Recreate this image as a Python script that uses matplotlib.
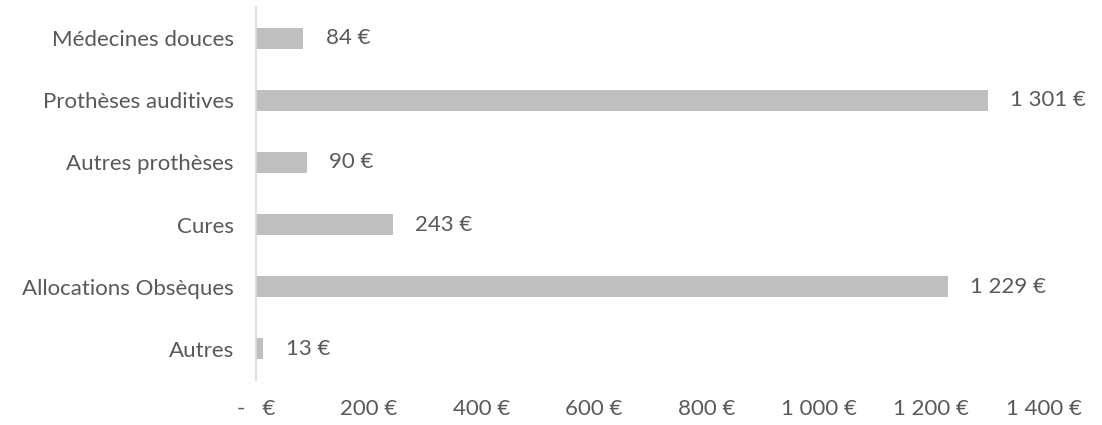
import matplotlib
matplotlib.use("Agg")
import matplotlib.pyplot as plt

categories = ["Médecines douces", "Prothèses auditives", "Autres prothèses",
              "Cures", "Allocations Obsèques", "Autres"]
values = [84, 1301, 90, 243, 1229, 13]
xticks = [0, 200, 400, 600, 800, 1000, 1200, 1400]
xtick_labels = ["-   €", "200 €", "400 €", "600 €", "800 €", "1 000 €", "1 200 €", "1 400 €"]


def fmt(v):
    return f"{v:,}".replace(",", " ") + " €"


plt.rcParams['font.family'] = ['Lato', 'DejaVu Sans']
text_color = "#595959"
fs = 16

fig = plt.figure(figsize=(11.02, 4.25), dpi=100)
ax = fig.add_axes([256 / 1102, 1 - 380 / 425, (1044 - 256) / 1102, 373 / 425])

ypos = list(range(len(categories)))[::-1]
ax.barh(ypos, values, height=0.34, color="#bfbfbf")

for y, v in zip(ypos, values):
    ax.annotate(fmt(v), (v, y), xytext=(16, 0), textcoords="offset points",
                ha="left", va="center", fontsize=fs, color=text_color)

ax.set_xlim(0, 1400)
ax.set_ylim(-0.5, len(categories) - 0.5)
ax.set_yticks(ypos)
ax.set_yticklabels(categories, fontsize=fs, color=text_color)
ax.set_xticks(xticks)
ax.set_xticklabels(xtick_labels, fontsize=fs, color=text_color)
ax.tick_params(axis="both", length=0)
ax.tick_params(axis="y", pad=16)
ax.tick_params(axis="x", pad=14)

for side in ["top", "right", "bottom"]:
    ax.spines[side].set_visible(False)
ax.spines["left"].set_color("#d9d9d9")
ax.spines["left"].set_linewidth(1.2)

fig.savefig("out.png", dpi=100)
